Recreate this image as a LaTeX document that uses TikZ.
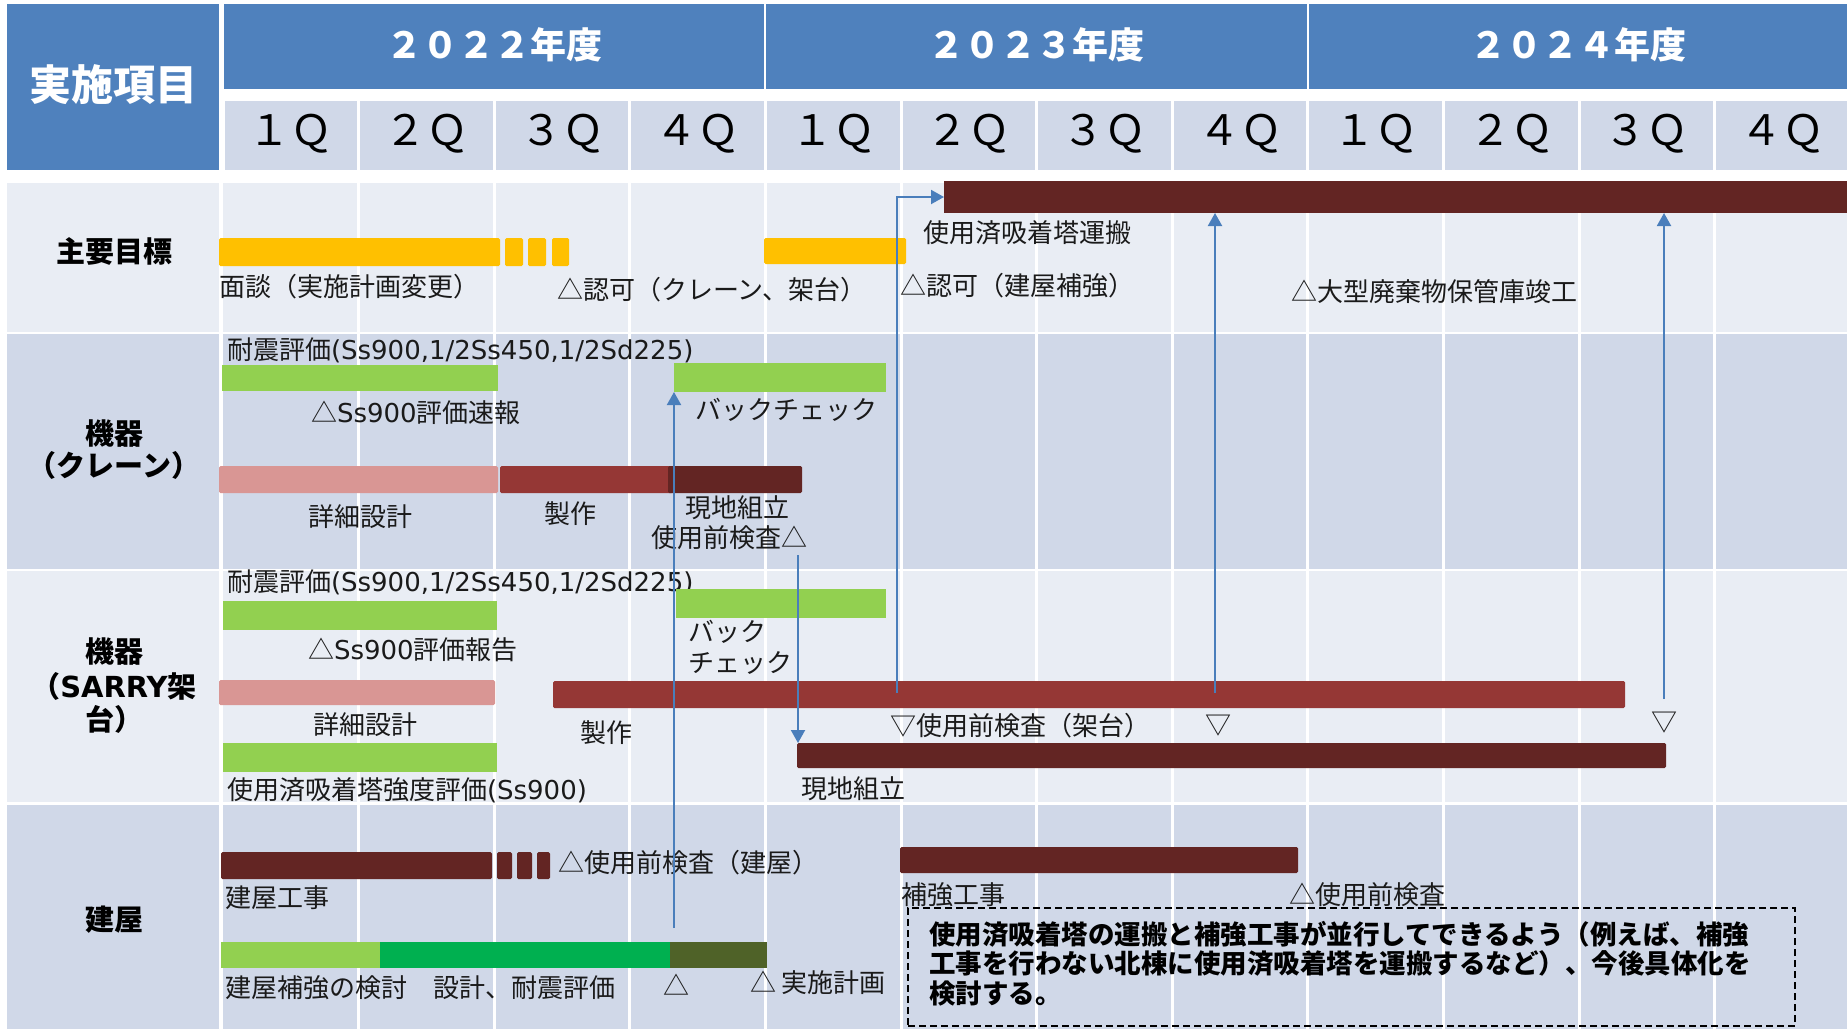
\documentclass[tikz,border=0pt]{standalone}
\usepackage{fontspec}
\setmainfont{Noto Sans CJK JP}
\newfontfamily\lat{DejaVu Sans}
\usetikzlibrary{arrows.meta,fit}
\definecolor{hdrblue}{HTML}{4F81BD}
\definecolor{qcell}{HTML}{D0D8E8}
\definecolor{rowdark}{HTML}{D0D8E8}
\definecolor{rowlight}{HTML}{E9EDF4}
\definecolor{barY}{HTML}{FFC000}
\definecolor{barLG}{HTML}{92D050}
\definecolor{barG}{HTML}{00B050}
\definecolor{barOl}{HTML}{4F6228}
\definecolor{barPk}{HTML}{D99694}
\definecolor{barR}{HTML}{953735}
\definecolor{barDR}{HTML}{632523}
\definecolor{linkblue}{HTML}{4A7EBB}
\definecolor{ink}{HTML}{1A1A1A}
\begin{document}
\begin{tikzpicture}[x=1pt,y=-1pt,
  bar/.style={rectangle,inner sep=0pt,outer sep=0pt,draw=none,rounded corners=1.5pt},
  txt/.style={inner sep=0pt,outer sep=0pt,anchor=west,text=ink,font=\fontsize{26}{30}\selectfont},
  symb/.style={inner sep=0pt,outer sep=0pt,text=ink,font=\fontsize{26}{30}\selectfont},
  rowlbl/.style={inner sep=0pt,outer sep=0pt,text=black,font=\bfseries\fontsize{29}{34}\selectfont},
  yearlbl/.style={inner sep=0pt,text=white,font=\bfseries\fontsize{36}{40}\selectfont},
  qlbl/.style={inner sep=0pt,text=black,font=\fontsize{42}{46}\selectfont},
  arr/.style={draw=linkblue,line width=2pt,-{Triangle[length=13pt,width=14pt]}},
]
\useasboundingbox (0,0) rectangle (1847,1029);
\clip (0,0) rectangle (1847,1029);
\fill[white] (0,0) rectangle (1847,1029);

% ---------- header ----------
\fill[hdrblue] (7,4) rectangle (219,170);
\node[inner sep=0pt,text=white,font=\bfseries\fontsize{42}{46}\selectfont] (hitem) at (113,85) {実施項目};
\fill[hdrblue] (224,4) rectangle (764.4,89);
\fill[hdrblue] (766.4,4) rectangle (1306.8,89);
\fill[hdrblue] (1308.8,4) rectangle (1847,89);
\node[yearlbl] (y2022) at (494,45) {２０２２年度};
\node[yearlbl] (y2023) at (1036,45) {２０２３年度};
\node[yearlbl] (y2024) at (1578,45) {２０２４年度};
\foreach \k/\n in {0/１,1/２,2/３,3/４,4/１,5/２,6/３,7/４,8/１,9/２,10/３,11/４}{
  \fill[qcell] ({223+\k*135.6+1.5},101) rectangle ({223+(\k+1)*135.6-1.5},170);
  \node[qlbl] (q\k) at ({223+(\k+0.5)*135.6},134) {\n Ｑ};
}

% ---------- body rows ----------
\fill[rowlight] (7,183) rectangle (1847,331.5);
\fill[rowdark]  (7,334) rectangle (1847,568.5);
\fill[rowlight] (7,571) rectangle (1847,802);
\fill[rowdark]  (7,804.5) rectangle (1847,1029);
\draw[white,line width=4pt] (221,183) -- (221,1029);
\foreach \k in {1,...,11}{
  \draw[white,line width=3pt] ({223+\k*135.6},183) -- ({223+\k*135.6},1029);
}

% row labels
\node[rowlbl] (l1) at (114,251) {主要目標};
\node[rowlbl] (l2a) at (114,433) {機器};
\node[rowlbl] (l2b) at (114,465) {（クレーン）};
\node[rowlbl] (l3a) at (114,651) {機器};
\node[rowlbl] (l3b) at (114,686) {（{\lat SARRY}架};
\node[rowlbl] (l3c) at (114,719) {台）};
\node[rowlbl] (l4) at (114,920) {建屋};

% ---------- row 1 : 主要目標 ----------
\node[bar,fill=barY,fit={(219,238) (500,266)}] (y1a) {};
\node[bar,fill=barY,fit={(505,238) (523,266)}] (y1b) {};
\node[bar,fill=barY,fit={(528,238) (546,266)}] (y1c) {};
\node[bar,fill=barY,fit={(552,238) (569,266)}] (y1d) {};
\node[bar,fill=barY,fit={(764,238) (906,264)}] (y2) {};
\node[bar,fill=barDR,rounded corners=0pt,fit={(944,181) (1850,213)}] (transport) {};
\node[txt] (t1a) at (219,287) {面談（実施計画変更）};
\node[txt] (t1b) at (557,290) {△認可（クレーン、架台）};
\node[txt] (t1c) at (923,233) {使用済吸着塔運搬};
\node[txt] (t1d) at (900,286) {△認可（建屋補強）};
\node[txt] (t1e) at (1291,292) {△大型廃棄物保管庫竣工};

% ---------- row 2 : 機器（クレーン） ----------
\node[txt] (t2a) at (227,350) {耐震評価{\lat (Ss900,1/2Ss450,1/2Sd225)}};
\node[bar,fill=barLG,rounded corners=0pt,fit={(222,365) (498,391)}] (g2a) {};
\node[bar,fill=barLG,rounded corners=0pt,fit={(674,363) (886,392)}] (bc1) {};
\node[txt] (t2b) at (311,413) {△{\lat Ss900}評価速報};
\node[txt] (t2c) at (695,410) {バックチェック};
\node[bar,fill=barPk,fit={(219,466) (498,493)}] (p2) {};
\node[bar,fill=barR,fit={(500,466) (673,493)}] (r2) {};
\node[bar,fill=barDR,fit={(668,466) (802,493)}] (d2) {};
\node[txt] (t2d) at (308,517) {詳細設計};
\node[txt] (t2e) at (544,514) {製作};
\node[txt] (t2f) at (685,508) {現地組立};
\node[txt] (t2g) at (651,538) {使用前検査△};

% ---------- row 3 : 機器（SARRY架台） ----------
\node[txt] (t3a) at (227,582) {耐震評価{\lat (Ss900,1/2Ss450,1/2Sd225)}};
\node[bar,fill=barLG,rounded corners=0pt,fit={(223,601) (497,630)}] (g3a) {};
\node[bar,fill=barLG,rounded corners=0pt,fit={(676,589) (886,618)}] (bc2) {};
\node[txt] (t3b) at (308,650) {△{\lat Ss900}評価報告};
\node[txt] (t3c) at (688,632) {バック};
\node[txt] (t3d) at (688,663) {チェック};
\node[bar,fill=barPk,fit={(219,680) (495,705)}] (p3) {};
\node[bar,fill=barR,fit={(553,681) (1625,708)}] (r3) {};
\node[txt] (t3e) at (313,725) {詳細設計};
\node[txt] (t3f) at (580,733) {製作};
\node[txt] (t3g) at (890,726) {▽使用前検査（架台）};
\node[symb] (t3h) at (1218,726) {▽};
\node[symb] (t3i) at (1664,723) {▽};
\node[bar,fill=barDR,fit={(797,743) (1666,768)}] (genchi) {};
\node[txt] (t3j) at (801,789) {現地組立};
\node[bar,fill=barLG,rounded corners=0pt,fit={(223,743) (497,772)}] (g3b) {};
\node[txt] (t3k) at (227,790) {使用済吸着塔強度評価{\lat (Ss900)}};

% ---------- row 4 : 建屋 ----------
\node[bar,fill=barDR,fit={(221,852) (492,879)}] (k4a) {};
\node[bar,fill=barDR,fit={(497,852) (512,879)}] (k4b) {};
\node[bar,fill=barDR,fit={(517,852) (532,879)}] (k4c) {};
\node[bar,fill=barDR,fit={(537,852) (550,879)}] (k4d) {};
\node[txt] (t4a) at (558,863) {△使用前検査（建屋）};
\node[txt] (t4b) at (225,898) {建屋工事};
\node[bar,fill=barLG,rounded corners=0pt,fit={(221,942) (380,968)}] (gb1) {};
\node[bar,fill=barG,rounded corners=0pt,fit={(380,942) (670,968)}] (gb2) {};
\node[bar,fill=barOl,rounded corners=0pt,fit={(670,942) (767,968)}] (gb3) {};
\node[txt] (t4c) at (225,988) {建屋補強の検討　設計、耐震評価};
\node[symb] (t4d) at (676,985) {△};
\node[txt] (t4e) at (750,983) {△ 実施計画};
\node[bar,fill=barDR,fit={(900,847) (1298,873)}] (hk) {};
\node[txt] (t4f) at (901,895) {補強工事};
\node[txt] (t4g) at (1289,895) {△使用前検査};
\node[draw=black,line width=1.5pt,dash pattern=on 7pt off 4pt,inner sep=0pt,outer sep=0pt,fit={(908,908) (1795,1026)}] (note) {};
\node[inner sep=0pt,outer sep=0pt,anchor=north west,align=left,text=black,font=\bfseries\fontsize{26.5}{29.5}\selectfont] (notetext) at (929,921)
  {使用済吸着塔の運搬と補強工事が並行してできるよう（例えば、補強\\工事を行わない北棟に使用済吸着塔を運搬するなど）、今後具体化を\\検討する。};

% ---------- connectors ----------
\coordinate (c1) at (897,693);
\coordinate (c2) at (1215,693);
\coordinate (c3) at (1664,699);
\coordinate (c4) at (798,555);
\coordinate (c5) at (674,928);
\draw[arr] (c1) |- (transport.west);
\draw[arr] (c2) -- (c2 |- transport.south);
\draw[arr] (c3) -- (c3 |- transport.south);
\draw[arr] (c4) -- (c4 |- genchi.north);
\draw[arr] (c5) -- (c5 |- bc1.south);
\end{tikzpicture}
\end{document}
